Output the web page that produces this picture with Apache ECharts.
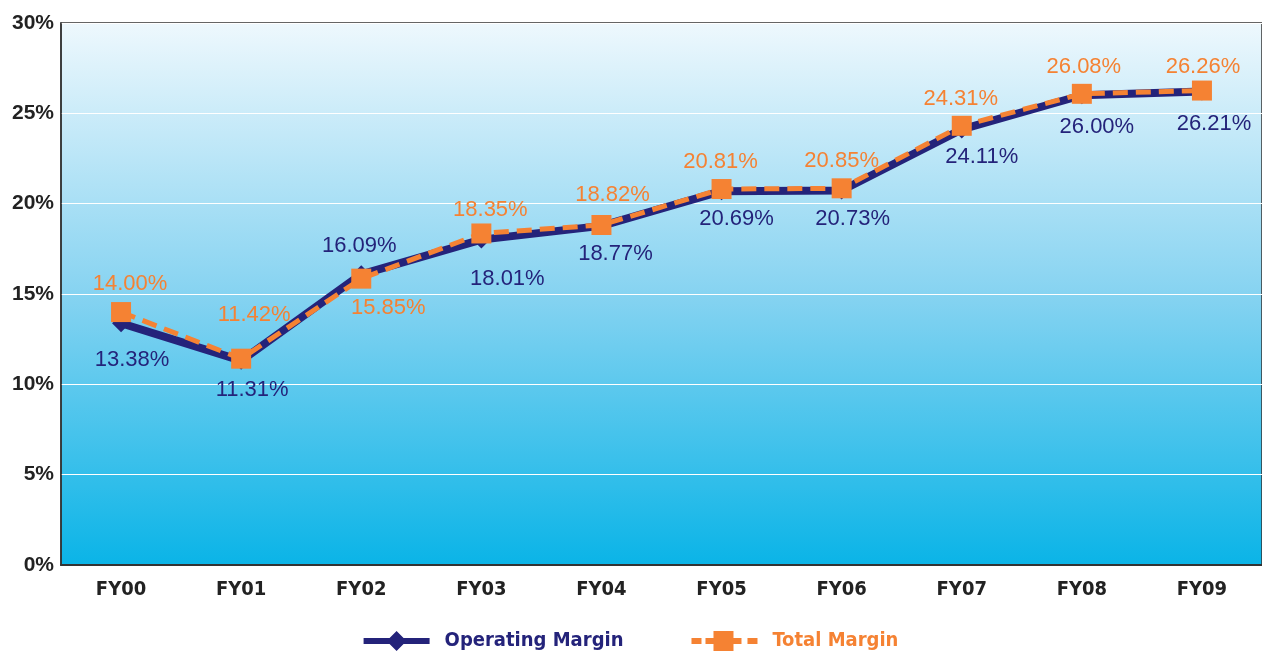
<!DOCTYPE html>
<html><head><meta charset="utf-8">
<script src="https://cdn.jsdelivr.net/npm/echarts@6/dist/echarts.min.js"></script>
<style>html,body{margin:0;padding:0;background:#fff}#c{width:1262px;height:654px}</style>
</head><body><div id="c"></div>
<script>
const categories = ['FY00','FY01','FY02','FY03','FY04','FY05','FY06','FY07','FY08','FY09'];
const operatingMargin = [13.38, 11.31, 16.09, 18.01, 18.77, 20.69, 20.73, 24.11, 26.00, 26.21];
const totalMargin = [14.00, 11.42, 15.85, 18.35, 18.82, 20.81, 20.85, 24.31, 26.08, 26.26];
const yTicks = [0, 5, 10, 15, 20, 25, 30];

// label placement tweaks (style only): [position, distance, xOffset]
const opLabelPlace = [
  ['bottom', 17, 11], ['bottom', 9, 11], ['top', 8, -2], ['bottom', 19, 26], ['bottom', 8, 14],
  ['bottom', 8, 15], ['bottom', 8, 11], ['bottom', 8, 20], ['bottom', 12, 15], ['bottom', 12, 12]
];
const totLabelPlace = [
  ['top', 7, 9], ['top', 23, 13], ['bottom', 8, 27], ['top', 3, 9], ['top', 9, 11],
  ['top', 6, -1], ['top', 6, 0], ['top', 6, -1], ['top', 6, 2], ['top', 3, 1]
];

const navy = '#24237a';
const orange = '#f58233';
const labelFont = '"Liberation Sans", Arial, sans-serif';
const axisFont = '"Liberation Sans Narrow", "DejaVu Sans Condensed", "Liberation Sans", sans-serif';

const opData = operatingMargin.map((v, i) => ({
  value: v,
  label: { position: opLabelPlace[i][0], distance: opLabelPlace[i][1], offset: [opLabelPlace[i][2], 0] }
}));
const totData = totalMargin.map((v, i) => ({
  value: v,
  label: { position: totLabelPlace[i][0], distance: totLabelPlace[i][1], offset: [totLabelPlace[i][2], 0] }
}));

const opIcon = 'path://M0,7L26,7L33,0L40,7L66,7L66,13L40,13L33,20L26,13L0,13Z';
const totIcon = 'path://M0,7h10v6h-10Z M14,7h8v6h-8Z M22,0h20v20h-20Z M42,7h8v6h-8Z M56,7h10v6h-10Z';

const chart = echarts.init(document.getElementById('c'), null, { renderer: 'canvas' });
chart.setOption({
  animation: false,
  grid: {
    left: 61, right: -3, top: 23, bottom: 89,
    show: true,
    borderColor: '#333', borderWidth: 1.5,
    backgroundColor: new echarts.graphic.LinearGradient(0, 0, 0, 1, [
      { offset: 0, color: '#eef8fd' },
      { offset: 0.5, color: '#86d3f1' },
      { offset: 1, color: '#0ab4e7' }
    ])
  },
  legend: {
    bottom: -2, left: 'center',
    itemWidth: 66, itemHeight: 20, itemGap: 68,
    textStyle: { fontFamily: axisFont, fontSize: 20, fontWeight: 'bold', padding: [0, 0, 0, 10] },
    data: [
      { name: 'Operating Margin', icon: opIcon, itemStyle: { color: navy }, textStyle: { color: navy } },
      { name: 'Total Margin', icon: totIcon, itemStyle: { color: orange }, textStyle: { color: orange } }
    ]
  },
  xAxis: {
    type: 'category', data: categories, boundaryGap: true,
    axisLine: { lineStyle: { color: '#333', width: 2 } },
    axisTick: { show: false },
    axisLabel: { color: '#222', fontFamily: axisFont, fontSize: 20, fontWeight: 'bold', margin: 15 }
  },
  yAxis: {
    type: 'value', min: yTicks[0], max: yTicks[yTicks.length - 1], interval: 5,
    axisLine: { show: true, lineStyle: { color: '#333', width: 1.5 } },
    axisTick: { show: false },
    splitLine: { lineStyle: { color: '#ffffff', width: 1.2 } },
    axisLabel: { color: '#222', fontFamily: labelFont, fontSize: 21, fontWeight: 'bold', margin: 7, formatter: '{value}%' }
  },
  series: [
    {
      name: 'Operating Margin', type: 'line', data: opData, z: 2,
      symbol: 'diamond', symbolSize: 18,
      lineStyle: { color: navy, width: 8 },
      itemStyle: { color: navy },
      label: { show: true, color: navy, fontFamily: labelFont, fontSize: 22,
        formatter: p => p.value.toFixed(2) + '%' }
    },
    {
      name: 'Total Margin', type: 'line', data: totData, z: 3,
      symbol: 'rect', symbolSize: 20,
      lineStyle: { color: orange, width: 5, type: [15, 8] },
      itemStyle: { color: orange },
      label: { show: true, color: orange, fontFamily: labelFont, fontSize: 22,
        formatter: p => p.value.toFixed(2) + '%' }
    }
  ]
});
</script></body></html>
